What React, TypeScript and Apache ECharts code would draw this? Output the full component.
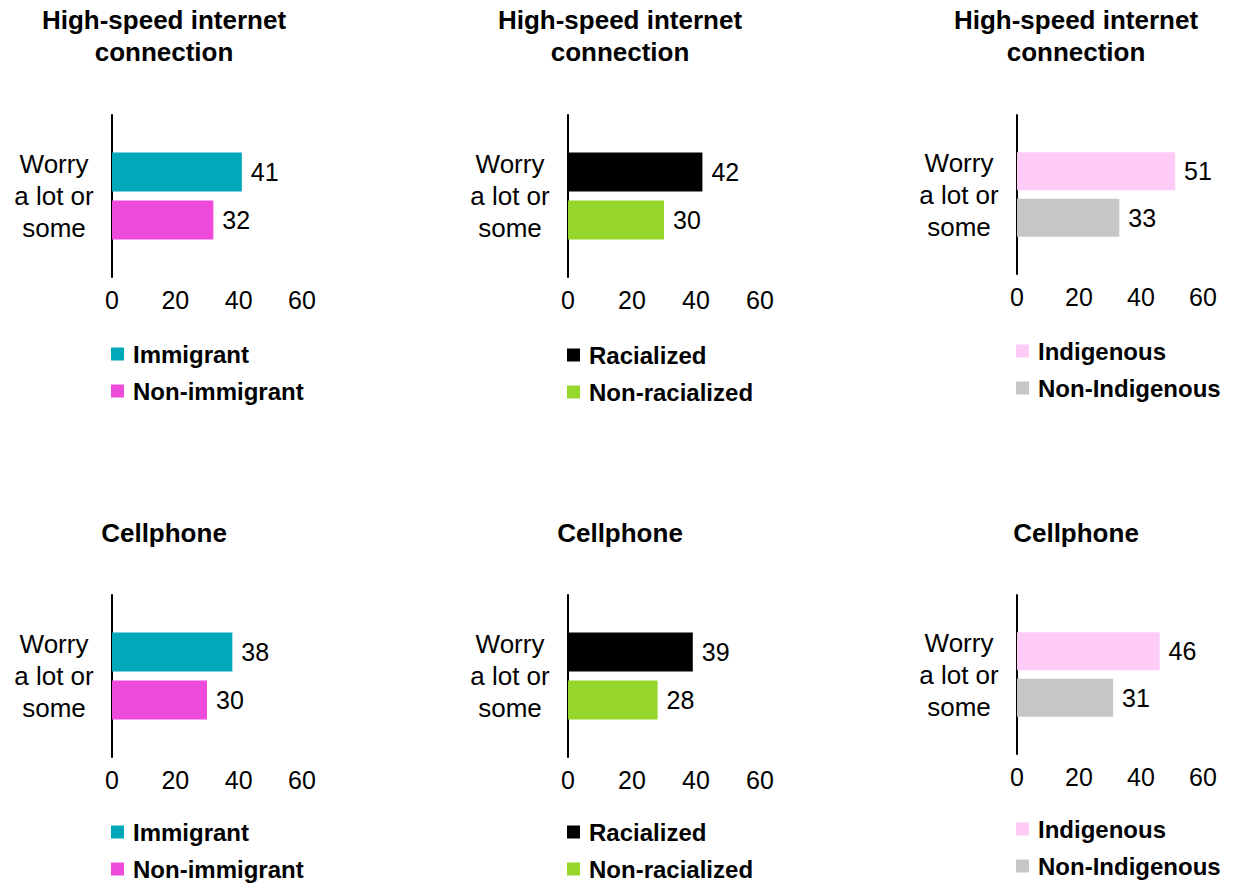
import React, { useEffect, useRef } from "react";
import * as echarts from "echarts";

// ---- data ----
const rowTitles = ["High-speed internet\nconnection", "Cellphone"];
const categories = ["Worry\na lot or\nsome"];
const groupNames = [
  ["Immigrant", "Non-immigrant"],
  ["Racialized", "Non-racialized"],
  ["Indigenous", "Non-Indigenous"],
];
const groupColors = [
  ["#00A8B9", "#EE4ADC"],
  ["#000000", "#97D62B"],
  ["#FDCBF6", "#C6C6C6"],
];
const internetValues = [
  [41, 32],
  [42, 30],
  [51, 33],
];
const cellphoneValues = [
  [38, 30],
  [39, 28],
  [46, 31],
];
const rowValues = [internetValues, cellphoneValues];
const xMin = 0;
const xMax = 60;
const xInterval = 20;

// ---- layout ----
const FONT = "'Liberation Sans', Arial, Helvetica, sans-serif";
const panelLeft = [112, 568, 1017];
const panelWidth = [190, 192, 186];
const panelTitleCenter = [164, 620, 1076];
const rowTop = [115, 595];
const panelHeight = [162, 162, 159];
const barWidths = [39, 39, 38];
const titleTop = [4, 517];
const legendCenter = [
  [354, 355, 351],
  [832, 832, 829],
];

export default function App() {
  const ref = useRef<HTMLDivElement>(null);

  useEffect(() => {
    if (!ref.current) return;
    const chart = echarts.init(ref.current, undefined, { renderer: "svg" });

    const title: any[] = [];
    const grid: any[] = [];
    const xAxis: any[] = [];
    const yAxis: any[] = [];
    const series: any[] = [];
    const legend: any[] = [];

    rowTitles.forEach((rt, r) => {
      for (let p = 0; p < 3; p++) {
        const idx = r * 3 + p;
        title.push({
          text: rt,
          left: panelTitleCenter[p],
          top: titleTop[r],
          textAlign: "center",
          padding: 0,
          textStyle: {
            fontFamily: FONT,
            fontSize: 26,
            fontWeight: "bold",
            color: "#000",
            lineHeight: 32,
          },
        });
        grid.push({
          left: panelLeft[p],
          top: rowTop[r],
          width: panelWidth[p],
          height: panelHeight[p],
          containLabel: false,
        });
        xAxis.push({
          type: "value",
          gridIndex: idx,
          min: xMin,
          max: xMax,
          interval: xInterval,
          axisLine: { show: false },
          axisTick: { show: false },
          splitLine: { show: false },
          axisLabel: {
            fontFamily: FONT,
            fontSize: 25,
            color: "#000",
            margin: 10,
          },
        });
        yAxis.push({
          type: "category",
          gridIndex: idx,
          data: categories,
          inverse: true,
          axisLine: { show: true, lineStyle: { color: "#000", width: 2 } },
          axisTick: { show: false },
          axisLabel: {
            fontFamily: FONT,
            fontSize: 26,
            color: "#000",
            align: "center",
            lineHeight: 32,
            margin: 58,
          },
        });
        groupNames[p].forEach((name, k) => {
          series.push({
            type: "bar",
            name,
            xAxisIndex: idx,
            yAxisIndex: idx,
            data: [rowValues[r][p][k]],
            barWidth: barWidths[p],
            barGap: "23%",
            itemStyle: { color: groupColors[p][k] },
            label: {
              show: true,
              position: "right",
              distance: 9,
              fontFamily: FONT,
              fontSize: 25,
              color: "#000",
            },
          });
        });
        legend.push({
          data: groupNames[p],
          orient: "vertical",
          left: panelLeft[p] - 1,
          top: legendCenter[r][p] - 12,
          height: 120,
          width: 260,
          itemWidth: 13,
          itemHeight: 13,
          itemGap: 13,
          icon: "rect",
          selectedMode: false,
          padding: 0,
          textStyle: {
            fontFamily: FONT,
            fontSize: 24,
            fontWeight: "bold",
            color: "#000",
            lineHeight: 24,
            padding: [0, 0, 0, 4],
          },
        });
      }
    });

    chart.setOption({
      animation: false,
      backgroundColor: "#fff",
      title,
      grid,
      xAxis,
      yAxis,
      series,
      legend,
    });

    return () => chart.dispose();
  }, []);

  return (
    <div
      ref={ref}
      style={{ position: "fixed", left: 0, top: 0, width: 1242, height: 886 }}
    />
  );
}
